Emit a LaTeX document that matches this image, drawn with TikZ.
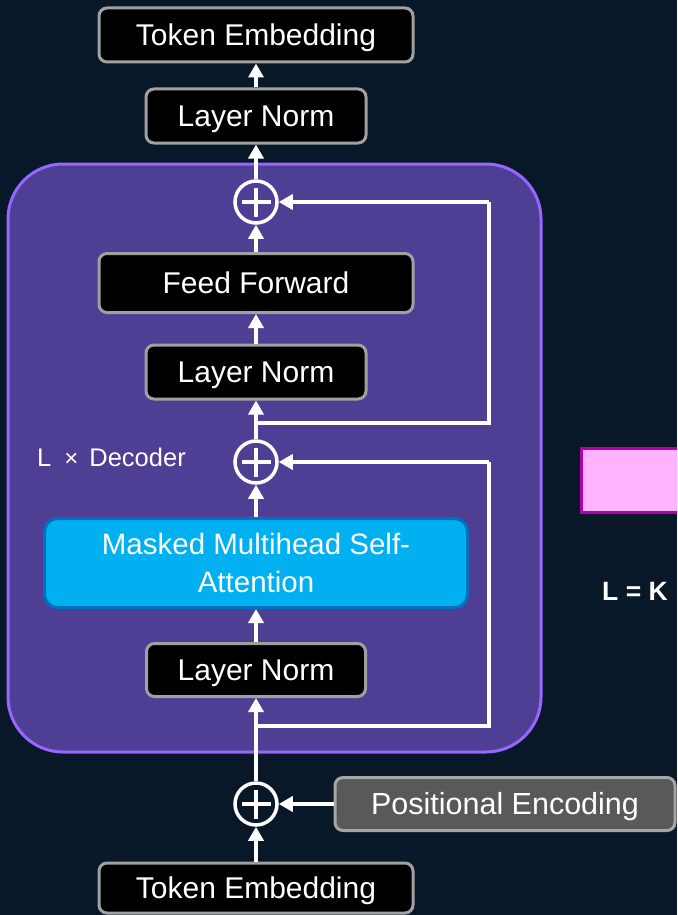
\documentclass[tikz,border=0pt]{standalone}
\usepackage{fontspec}
\setmainfont{Liberation Sans}
\usetikzlibrary{arrows.meta,calc}
\definecolor{bg}{RGB}{9,24,40}
\definecolor{decfill}{RGB}{79,63,148}
\definecolor{decdraw}{RGB}{151,102,255}
\definecolor{boxgray}{RGB}{160,160,160}
\definecolor{mhafill}{RGB}{0,176,240}
\definecolor{mhadraw}{RGB}{0,112,192}
\definecolor{pefill}{RGB}{89,89,89}
\definecolor{pedraw}{RGB}{166,166,166}
\definecolor{pinkfill}{RGB}{255,179,255}
\definecolor{pinkdraw}{RGB}{176,0,176}
\begin{document}
\begin{tikzpicture}[x=1pt,y=-1pt,
  blk/.style={rectangle, rounded corners=8pt, fill=black, draw=boxgray, line width=3pt,
    text=white, font=\fontsize{30}{36}\selectfont, inner sep=0pt, text height=21.5pt, text depth=0pt},
  mhabox/.style={rectangle, rounded corners=13pt, fill=mhafill, draw=mhadraw, line width=3pt,
    text=white, font=\fontsize{29.5}{38}\selectfont, inner sep=0pt, align=center},
  pebox/.style={rectangle, rounded corners=8pt, fill=pefill, draw=pedraw, line width=3pt,
    text=white, font=\fontsize{30.5}{36}\selectfont, inner sep=0pt, text height=21.8pt, text depth=0pt},
  plusnode/.style={circle, draw=white, line width=3.5pt, minimum size=42pt, inner sep=0pt,
    path picture={\draw[white, line width=4.5pt]
      ($(path picture bounding box.center)+(-14.5,0)$) -- ($(path picture bounding box.center)+(14.5,0)$)
      ($(path picture bounding box.center)+(0,-14.5)$) -- ($(path picture bounding box.center)+(0,14.5)$);}},
  arr/.style={draw=white, line width=4pt, -{Triangle[length=14pt,width=15pt]}},
  skip/.style={draw=white, line width=4pt}
]
\useasboundingbox (0,0) rectangle (677,915);
\clip (0,0) rectangle (677,915);
\fill[bg] (0,0) rectangle (677,915);

% decoder block
\draw[fill=decfill, draw=decdraw, line width=3pt, rounded corners=55pt] (8,164) rectangle (541,752);
\node[text=white, font=\fontsize{25.5}{30}\selectfont, anchor=west, inner sep=0pt] (dec) at (37,457) {L\hspace{13pt}{\fontsize{24}{30}\selectfont ×}\hspace{11pt}Decoder};

% nodes
\node[blk, minimum width=314pt, minimum height=54pt] (te1) at (256,35) {Token Embedding};
\node[blk, minimum width=220pt, minimum height=54pt] (ln1) at (256,116) {Layer Norm};
\node[plusnode] (p1) at (256,202) {};
\node[blk, minimum width=314pt, minimum height=59pt] (ff) at (256,283) {Feed Forward};
\node[blk, minimum width=220pt, minimum height=54pt] (ln2) at (256,372) {Layer Norm};
\node[plusnode] (p2) at (256,462) {};
\node[mhabox, minimum width=423pt, minimum height=89pt] (mha) at (256,563) {Masked Multihead Self-\\Attention};
\node[blk, minimum width=219pt, minimum height=53pt] (ln3) at (256,670) {Layer Norm};
\node[plusnode] (p3) at (256,804) {};
\node[pebox, minimum width=340pt, minimum height=53pt] (pe) at (505,804) {Positional Encoding};
\node[blk, minimum width=314pt, minimum height=50pt] (te2) at (256,888) {Token Embedding};

% right side
\node[rectangle, fill=pinkfill, draw=pinkdraw, line width=3pt, minimum width=130pt, minimum height=64pt, inner sep=0pt, anchor=west] (pink) at (580,480) {};
\node[text=white, font=\bfseries\fontsize{26.5}{30}\selectfont, inner sep=0pt] (lk) at (635,591) {L = K};

% coordinates
\coordinate (rx) at (489,0);
\coordinate (s1) at (256,423);
\coordinate (s2) at (256,726);

% arrows
\draw[arr] (te2.north) -- (p3.south);
\draw[arr] (pe.west) -- (p3.east);
\draw[arr] (p3.north) -- (ln3.south);
\draw[arr] (ln3.north) -- (mha.south);
\draw[arr] (mha.north) -- (p2.south);
\draw[arr] (p2.north) -- (ln2.south);
\draw[arr] (ln2.north) -- (ff.south);
\draw[arr] (ff.north) -- (p1.south);
\draw[arr] (p1.north) -- (ln1.south);
\draw[arr] (ln1.north) -- (te1.south);

% skip connections
\draw[skip] (s2) -| (rx |- p2.east);
\draw[arr] (rx |- p2.east) -- (p2.east);
\draw[skip] (s1) -| (rx |- p1.east);
\draw[arr] (rx |- p1.east) -- (p1.east);
\end{tikzpicture}
\end{document}
